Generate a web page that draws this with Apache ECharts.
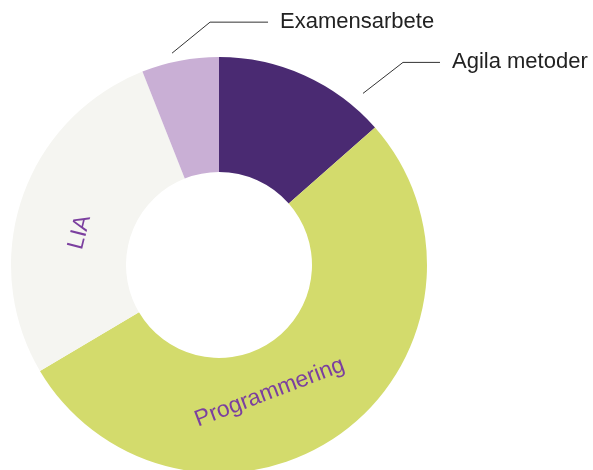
<!DOCTYPE html>
<html>
<head>
<meta charset="utf-8">
<script src="https://cdn.jsdelivr.net/npm/echarts@6/dist/echarts.min.js"></script>
<style>
  html, body { margin: 0; padding: 0; background: #fff; }
  #chart { width: 593px; height: 470px; }
</style>
</head>
<body>
<div id="chart"></div>
<script>
// kursernas andel av utbildningen (%)
const courses = ['Agila metoder', 'Programmering', 'LIA', 'Examensarbete']
const shares = [13.5, 53, 27.5, 6]
const colors = ['#4a2a72', '#d3db6c', '#f5f5f1', '#c9afd5']

const cx = 219
const cy = 265

// leader lines: start angle (deg, clockwise from top), start radius, dx, dy, horizontal length
const callouts = {
  'Examensarbete': [347.5, 217, 38, 31, 58],
  'Agila metoder': [40, 224, 40, 31, 37]
}

// inside labels: rotation and nudge (in the label's own rotated frame)
const insideLabels = {
  'Programmering': { rotate: 21, dx: -38, dy: -11 },
  'LIA': { rotate: 76, dx: -15, dy: 10 }
}

const chart = echarts.init(document.getElementById('chart'), null, { renderer: 'canvas' })

const option = {
  backgroundColor: '#fff',
  animation: false,
  series: [{
    type: 'pie',
    center: [cx, cy],
    radius: [93, 208],
    startAngle: 90,
    clockwise: true,
    silent: true,
    data: courses.map((name, i) => {
      const item = {
        name: name,
        value: shares[i],
        itemStyle: { color: colors[i] }
      }
      if (insideLabels[name]) {
        item.label = {
          position: 'inside',
          rotate: insideLabels[name].rotate,
          fontSize: 23,
          color: '#7b3f9f'
        }
        item.labelLine = { show: false }
      }
      return item
    }),
    label: {
      show: true,
      position: 'outside',
      formatter: '{b}',
      overflow: 'none',
      fontFamily: 'Liberation Sans',
      fontSize: 22,
      color: '#222'
    },
    labelLine: {
      show: true,
      smooth: false,
      lineStyle: { color: '#333', width: 1 }
    },
    labelLayout: (params) => {
      const name = courses[params.dataIndex]
      const c = callouts[name]
      if (c) {
        const a = c[0] * Math.PI / 180
        const p1 = [cx + c[1] * Math.sin(a), cy - c[1] * Math.cos(a)]
        const p2 = [p1[0] + c[2], p1[1] - c[3]]
        const p3 = [p2[0] + c[4], p2[1]]
        return {
          x: p3[0] + 12,
          y: p3[1],
          align: 'left',
          verticalAlign: 'middle',
          labelLinePoints: [p1, p2, p3]
        }
      }
      const ins = insideLabels[name]
      if (ins) {
        return { dx: ins.dx, dy: ins.dy }
      }
    }
  }]
}

chart.setOption(option)
</script>
</body>
</html>
